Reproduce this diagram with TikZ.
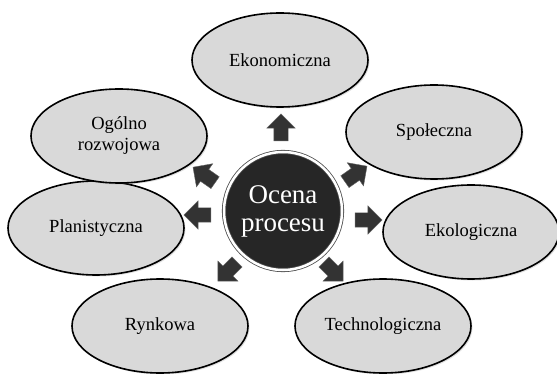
\documentclass[tikz,border=0pt]{standalone}
\usepackage{fontspec}
\setmainfont{Liberation Serif}
\usetikzlibrary{shapes.geometric,shapes.arrows,shadows}
\tikzset{
  aspect/.style={ellipse, draw=black, line width=1.6pt, fill=black!15,
    minimum width=176pt, minimum height=94pt, align=center,
    font=\fontsize{18.5}{21}\selectfont,
    drop shadow={opacity=0.25, shadow xshift=1.5pt, shadow yshift=-1.5pt}},
  hub/.style={circle, fill=black!85, draw=black!70, double=white,
    double distance=2.5pt, line width=0.8pt, minimum size=118pt,
    text=white, align=center, font=\fontsize{27}{28}\selectfont},
  pointer/.style={single arrow, fill=black!80, draw=black!60, line width=0.4pt,
    inner sep=7pt, minimum height=27pt, single arrow head extend=7pt,
    single arrow head indent=0pt}
}
\begin{document}
\begin{tikzpicture}[x=1pt, y=-1pt]
      \useasboundingbox (0,0) rectangle (557,374);
      \draw
        (280,60) node[aspect] (eko){Ekonomiczna}
        (434,132) node[aspect] (spo){Społeczna}
        (471,232) node[aspect] (ekl){Ekologiczna}
        (383,326) node[aspect] (tec){Technologiczna}
        (160,326) node[aspect] (ryn){Rynkowa}
        (96,228) node[aspect] (pla){Planistyczna}
        (119,136) node[aspect] (ogo){Ogólno\\rozwojowa}
        (283,211) node[hub] (ocena){Ocena\\procesu};
      \begin{scope}[every node/.style={pointer}]
        \node[rotate=90] (a1) at (281,131) {};
        \node[rotate=35] (a2) at (353,176) {};
        \node[rotate=0] (a3) at (365,220) {};
        \node[rotate=-45] (a4) at (331,269) {};
        \node[rotate=225] (a5) at (230,269) {};
        \node[rotate=180] (a6) at (201,215) {};
        \node[rotate=145] (a7) at (207,177) {};
      \end{scope}
    \end{tikzpicture}
\end{document}
